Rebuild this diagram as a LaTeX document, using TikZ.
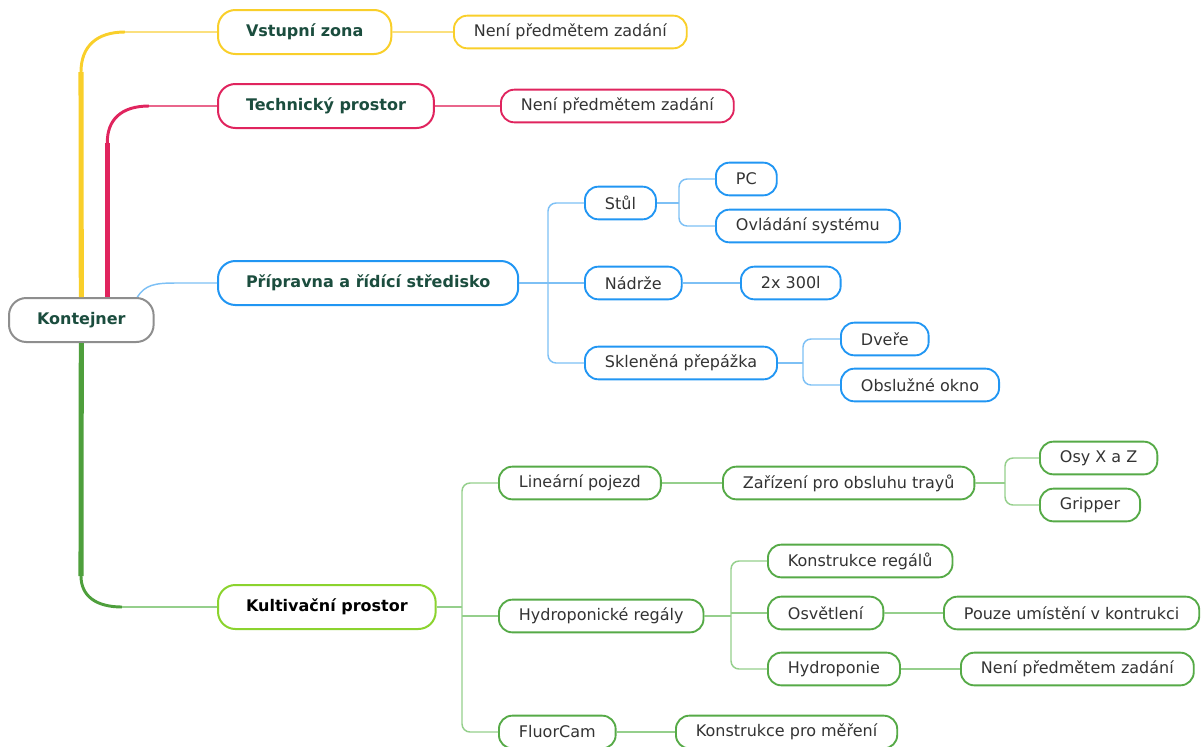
\documentclass[tikz,border=0pt]{standalone}
\usepackage{fontspec}
\setmainfont{DejaVu Sans}
\usetikzlibrary{calc}

\definecolor{yelc}{HTML}{F9CF2A}
\definecolor{yell}{HTML}{FBE07E}
\definecolor{redc}{HTML}{E0245E}
\definecolor{redl}{HTML}{E9668C}
\definecolor{bluec}{HTML}{2196F3}
\definecolor{bluel}{HTML}{7DC0F5}
\definecolor{grc}{HTML}{56AA47}
\definecolor{grl}{HTML}{95CF8C}
\definecolor{grt}{HTML}{4E9F3C}
\definecolor{limec}{HTML}{8BD32E}
\definecolor{rootc}{HTML}{8E8E8E}
\definecolor{titlec}{HTML}{1B4D3E}
\definecolor{subtext}{HTML}{333333}

\tikzset{
  topic/.style={draw, fill=white, rounded corners=13pt, line width=1.5pt,
    minimum height=33pt, inner xsep=21pt, anchor=west,
    font=\fontsize{12}{14}\selectfont\bfseries, text=titlec},
  sub/.style={draw, fill=white, rounded corners=10pt, line width=1.4pt,
    minimum height=24.5pt, inner xsep=15pt, anchor=west,
    font=\fontsize{12}{14}\selectfont, text=subtext},
  link/.style={line width=1.1pt},
  trunk/.style={line width=3.8pt},
  trunkbend/.style={line width=2.2pt},
}

\begin{document}
\begin{tikzpicture}[x=0.75pt,y=-0.75pt]
  \useasboundingbox (0,0) rectangle (1202,746);

  % main topics
  \node[topic, draw=rootc] (root) at (8,320) {Kontejner};
  \node[topic, draw=yelc] (vst) at (217,32) {Vstupní zona};
  \node[topic, draw=redc] (tech) at (217,106) {Technický prostor};
  \node[topic, draw=bluec] (prip) at (217,283) {Přípravna a řídící středisko};
  \node[topic, draw=limec, text=black] (kult) at (217,607) {Kultivační prostor};

  % yellow and red branches
  \node[sub, draw=yelc] (yneni) at (453,32) {Není předmětem zadání};
  \node[sub, draw=redc] (rneni) at (500,106) {Není předmětem zadání};

  % blue branch
  \node[sub, draw=bluec] (stul) at (584,203) {Stůl};
  \node[sub, draw=bluec] (pc) at (715,179) {PC};
  \node[sub, draw=bluec] (ovl) at (715,226) {Ovládání systému};
  \node[sub, draw=bluec] (nadr) at (584,283) {Nádrže};
  \node[sub, draw=bluec] (litry) at (740,283) {2x 300l};
  \node[sub, draw=bluec] (skl) at (584,363) {Skleněná přepážka};
  \node[sub, draw=bluec] (dvere) at (840,339) {Dveře};
  \node[sub, draw=bluec] (okno) at (840,385) {Obslužné okno};

  % green branch
  \node[sub, draw=grc] (lin) at (498,483) {Lineární pojezd};
  \node[sub, draw=grc] (zar) at (722,483) {Zařízení pro obsluhu trayů};
  \node[sub, draw=grc] (osy) at (1039,458) {Osy X a Z};
  \node[sub, draw=grc] (grip) at (1039,505) {Gripper};
  \node[sub, draw=grc] (hydr) at (498,616) {Hydroponické regály};
  \node[sub, draw=grc] (konreg) at (767,561) {Konstrukce regálů};
  \node[sub, draw=grc] (osv) at (767,613) {Osvětlení};
  \node[sub, draw=grc] (pouze) at (943,613) {Pouze umístění v kontrukci};
  \node[sub, draw=grc] (hydp) at (767,669) {Hydroponie};
  \node[sub, draw=grc] (gneni) at (960,669) {Není předmětem zadání};
  \node[sub, draw=grc] (fluor) at (498,732) {FluorCam};
  \node[sub, draw=grc] (konmer) at (675,732) {Konstrukce pro měření};

  % trunks from the root
  \coordinate (vst-b) at (81,72);
  \coordinate (vst-h) at (125,32);
  \draw[trunk, yelc] (root.north) -- (vst-b);
  \draw[trunkbend, yelc] (vst-b) .. controls (81,46) and (97,32) .. (vst-h);
  \draw[link, yell] (vst-h) -- (vst.west);

  \coordinate (tech-b) at ($(root.north)+(26,-154)$);
  \coordinate (tech-h) at (149,106);
  \draw[trunk, redc] ($(root.north)+(26,0)$) -- (tech-b);
  \draw[trunkbend, redc] (tech-b) .. controls (107,120) and (121,106) .. (tech-h);
  \draw[link, redl] (tech-h) -- (tech.west);

  \draw[link, bluel] ($(root.north)+(56,0)$) .. controls +(8,-12) and +(-22,0) .. (176,283) -- (prip.west);

  \coordinate (kult-b) at (81,576);
  \coordinate (kult-h) at (122,607);
  \draw[trunk, grt] (root.south) -- (kult-b);
  \draw[trunkbend, grt] (kult-b) .. controls (81,596) and (96,607) .. (kult-h);
  \draw[link, grl] (kult-h) -- (kult.west);

  % yellow and red links
  \draw[link, yell] (vst.east) -- (yneni.west);
  \draw[link, redl] (tech.east) -- (rneni.west);

  % blue links
  \coordinate (prip-j) at (548,283);
  \coordinate (stul-j) at (679,203);
  \coordinate (skl-j) at (803,363);
  \draw[link, bluel] (prip.east) -- (nadr.west);
  \foreach \n in {stul,skl}
    \draw[link, bluel, rounded corners=6pt] (prip-j) |- (\n.west);
  \draw[link, bluel] (stul.east) -- (stul-j);
  \foreach \n in {pc,ovl}
    \draw[link, bluel, rounded corners=6pt] (stul-j) |- (\n.west);
  \draw[link, bluel] (nadr.east) -- (litry.west);
  \draw[link, bluel] (skl.east) -- (skl-j);
  \foreach \n in {dvere,okno}
    \draw[link, bluel, rounded corners=6pt] (skl-j) |- (\n.west);

  % green links
  \coordinate (kult-j) at (462,607);
  \coordinate (zar-j) at (1005,483);
  \coordinate (hydr-j) at (731,616);
  \draw[link, grl] (kult.east) -- (kult-j);
  \foreach \n in {lin,fluor}
    \draw[link, grl, rounded corners=6pt] (kult-j) |- (\n.west);
  \draw[link, grl] (kult-j |- hydr.west) -- (hydr.west);
  \draw[link, grl] (lin.east) -- (zar.west);
  \draw[link, grl] (zar.east) -- (zar-j);
  \foreach \n in {osy,grip}
    \draw[link, grl, rounded corners=6pt] (zar-j) |- (\n.west);
  \draw[link, grl] (hydr.east) -- (hydr-j);
  \foreach \n in {konreg,hydp}
    \draw[link, grl, rounded corners=6pt] (hydr-j) |- (\n.west);
  \draw[link, grl] (hydr-j |- osv.west) -- (osv.west);
  \draw[link, grl] (osv.east) -- (pouze.west);
  \draw[link, grl] (hydp.east) -- (gneni.west);
  \draw[link, grl] (fluor.east) -- (konmer.west);
\end{tikzpicture}
\end{document}
